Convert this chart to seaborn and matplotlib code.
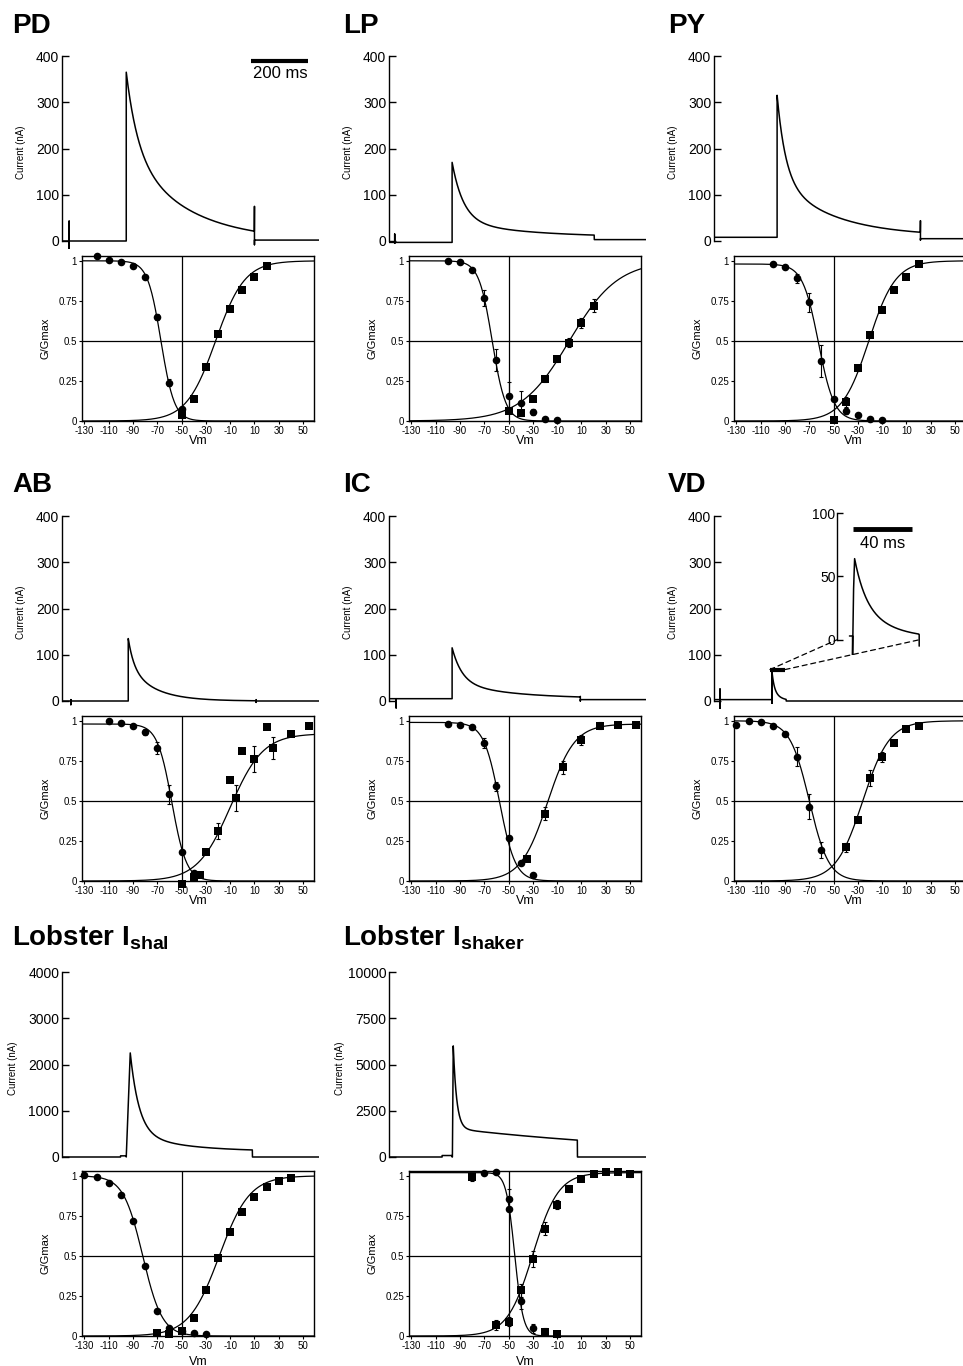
import numpy as np
import pandas as pd
import matplotlib
matplotlib.use("Agg")
import matplotlib.pyplot as plt
from matplotlib.patches import ConnectionPatch
import seaborn as sns

# %% data ---------------------------------------------------------------------

# G/Gmax vs Vm. circles = inactivation, squares = activation, *_e = error bars
pd_inact_v = [-120, -110, -100, -90, -80, -70, -60, -50]
pd_inact_g = [1.03, 1.005, 0.99, 0.965, 0.90, 0.65, 0.24, 0.077]
pd_inact_e = [0, 0, 0, 0, 0, 0.02, 0.02, 0]
pd_act_v = [-50, -40, -30, -20, -10, 0, 10, 20]
pd_act_g = [0.04, 0.14, 0.34, 0.545, 0.70, 0.815, 0.90, 0.965]
pd_act_e = [0, 0, 0, 0, 0, 0, 0, 0]

lp_inact_v = [-100, -90, -80, -70, -60, -50, -40, -30, -20, -10]
lp_inact_g = [1.0, 0.99, 0.945, 0.77, 0.38, 0.155, 0.11, 0.055, 0.01, 0.005]
lp_inact_e = [0, 0, 0, 0.05, 0.07, 0.09, 0.08, 0.02, 0, 0]
lp_act_v = [-50, -40, -30, -20, -10, 0, 10, 20]
lp_act_g = [0.06, 0.05, 0.135, 0.26, 0.385, 0.49, 0.61, 0.72]
lp_act_e = [0, 0, 0, 0.015, 0.015, 0.03, 0.03, 0.04]

py_inact_v = [-100, -90, -80, -70, -60, -50, -40, -30, -20, -10]
py_inact_g = [0.98, 0.96, 0.89, 0.74, 0.375, 0.14, 0.062, 0.035, 0.01, 0.006]
py_inact_e = [0, 0, 0.03, 0.06, 0.1, 0, 0.02, 0, 0, 0]
py_act_v = [-50, -40, -30, -20, -10, 0, 10, 20]
py_act_g = [0.004, 0.12, 0.33, 0.535, 0.695, 0.82, 0.90, 0.98]
py_act_e = [0, 0.03, 0.015, 0, 0, 0, 0, 0]

ab_inact_v = [-110, -100, -90, -80, -70, -60, -50, -40]
ab_inact_g = [1.0, 0.985, 0.965, 0.93, 0.83, 0.54, 0.18, 0.05]
ab_inact_e = [0, 0, 0, 0.02, 0.04, 0.06, 0, 0]
ab_act_v = [-50, -40, -35, -30, -20, -10, -5, 0, 10, 20, 25, 40, 55]
ab_act_g = [-0.017, 0.025, 0.04, 0.18, 0.31, 0.63, 0.52, 0.81, 0.76, 0.96, 0.83, 0.92, 0.97]
ab_act_e = [0, 0, 0, 0, 0.05, 0, 0.08, 0, 0.08, 0, 0.07, 0, 0]

ic_inact_v = [-100, -90, -80, -70, -60, -50, -40, -30]
ic_inact_g = [0.98, 0.975, 0.96, 0.86, 0.59, 0.27, 0.11, 0.04]
ic_inact_e = [0, 0, 0, 0.03, 0.03, 0, 0, 0]
ic_act_v = [-35, -20, -5, 10, 25, 40, 55]
ic_act_g = [0.14, 0.42, 0.71, 0.88, 0.97, 0.975, 0.975]
ic_act_e = [0, 0.04, 0.04, 0.03, 0.02, 0, 0]

vd_inact_v = [-130, -120, -110, -100, -90, -80, -70, -60]
vd_inact_g = [0.975, 1.0, 0.99, 0.965, 0.92, 0.775, 0.465, 0.196]
vd_inact_e = [0, 0, 0, 0, 0, 0.06, 0.08, 0.05]
vd_act_v = [-40, -30, -20, -10, 0, 10, 20]
vd_act_g = [0.21, 0.38, 0.64, 0.775, 0.86, 0.95, 0.965]
vd_act_e = [0.03, 0, 0.05, 0.03, 0, 0, 0]

shal_inact_v = [-130, -120, -110, -100, -90, -80, -70, -60, -50, -40, -30]
shal_inact_g = [1.005, 0.99, 0.955, 0.88, 0.72, 0.437, 0.158, 0.05, 0.03, 0.016, 0.01]
shal_inact_e = [0] * 11
shal_act_v = [-70, -60, -50, -40, -30, -20, -10, 0, 10, 20, 30, 40]
shal_act_g = [0.016, 0.01, 0.03, 0.113, 0.287, 0.49, 0.647, 0.776, 0.867, 0.928, 0.97, 0.986]
shal_act_e = [0] * 12

shk_inact_v = [-70, -60, -50, -50, -40, -30]
shk_inact_g = [1.017, 1.025, 0.855, 0.79, 0.22, 0.048]
shk_inact_e = [0, 0, 0.06, 0, 0.05, 0.03]
shk_act_v = [-80, -60, -50, -40, -30, -20, -20, -10, -10, 0, 10, 20, 30, 40, 50]
shk_act_g = [0.99, 0.068, 0.09, 0.285, 0.48, 0.67, 0.027, 0.82, 0.012, 0.92, 0.98, 1.01, 1.025, 1.025, 1.01]
shk_act_e = [0.02, 0.03, 0.03, 0.04, 0.05, 0.04, 0.02, 0.03, 0.02, 0.02, 0, 0, 0, 0, 0.02]

# Boltzmann fits: (V1/2, slope, Gmax)
pd_fits = [(-67, 5.5, 1.0), (-22, 12, 1.0)]
lp_fits = [(-63.5, 5.5, 1.0), (0, 20, 1.0)]
py_fits = [(-62.5, 6.5, 0.98), (-21, 11, 1.0)]
ab_fits = [(-58, 6, 0.98), (-10, 13.5, 0.92)]
ic_fits = [(-57.5, 6.5, 0.99), (-18, 11, 0.98)]
vd_fits = [(-70, 8, 1.0), (-26, 11, 1.0)]
shal_fits = [(-82, 8, 1.0), (-19, 12.5, 1.0)]
shk_fits = [(-45, 3.5, 1.02), (-30, 10.5, 1.02)]

# current traces: onset ms, rise ms, fast amp, fast tau, slow amp, slow tau, plateau, step off ms
pd_trace = [225, 0, 165, 40, 200, 200, 0, 674]
lp_trace = [221, 0, 127, 40, 35, 250, 8, 719]
py_trace = [221, 0, 180, 30, 125, 190, 10, 723]
ab_trace = [232, 0, 60, 20, 75, 90, 0, 680]
ic_trace = [221, 0, 75, 35, 35, 200, 5, 670]
vd_trace = [203, 0, 39, 8, 25, 25, 0, 253]
shal_trace = [225, 14, 1730, 31, 400, 170, 120, 667]
shk_trace = [222, 3, 4464, 12, 1540, 830, 0, 660]

# baseline before / after the step (nA)
pd_base, lp_base, py_base, ab_base = [0, 2], [-3, 3], [8, 5], [0, 0]
ic_base, vd_base, shal_base, shk_base = [5, 3], [3, 0], [0, 0], [0, 0]

# capacitive artifacts: (time ms, top nA, bottom nA)
pd_arts = [(25, 43, -22), (674, 75, -8)]
lp_arts = [(20, 15, -5)]
py_arts = [(723, 44, 2)]
ab_arts = [(31, 3, -8), (680, 3, -3)]
ic_arts = [(25, 3, -15), (670, 10, 0)]
vd_arts = [(21, 26, -22), (203, 70, -5)]
shal_bump = (205, 225, 25)
shk_bump = (186, 221, 80)

# VD inset (ms from peak): end, fast amp, fast tau, slow amp, slow tau, plateau
vd_inset_trace = [44, 39, 8, 25, 25, 0]
vd_inset_pre = [3, -13, 40]      # baseline, dip, first step
vd_zoom_window = [196, 249]      # ms, part of the VD trace shown in the inset
vd_zoom_level = 68

# %% style -----------------------------------------------------------------------

sns.set_style("ticks")
plt.rcParams['font.family'] = ['Liberation Sans', 'DejaVu Sans']
plt.rcParams['mathtext.fontset'] = 'custom'
plt.rcParams['mathtext.rm'] = 'Liberation Sans'
plt.rcParams['mathtext.bf'] = 'Liberation Sans:bold'
plt.rcParams['axes.edgecolor'] = 'black'
plt.rcParams['axes.linewidth'] = 1.0
plt.rcParams['text.color'] = 'black'
plt.rcParams['axes.labelcolor'] = 'black'
plt.rcParams['xtick.color'] = 'black'
plt.rcParams['ytick.color'] = 'black'

W, H = 963, 1366
fig = plt.figure(figsize=(W / 100, H / 100), dpi=100)


def rect(left, top, w, h):
    return [left / W, 1 - (top + h) / H, w / W, h / H]


def make_trace(spec, base, arts=(), bump=None, t_end=900):
    t_on, rise, af, tf, asl, ts, c, t_off = spec
    pts = [(0, base[0])]
    for ta, top, bot in arts:
        if ta <= t_on:
            pts += [(ta, base[0]), (ta, top), (ta, bot), (ta, base[0])]
    if bump is not None:
        pts += [(bump[0], base[0]), (bump[0], bump[2]), (bump[1], bump[2]), (bump[1], base[0])]
    pts.append((t_on, base[0]))
    dt = np.arange(0, t_off - t_on - rise, 0.5)
    dec = af * np.exp(-dt / tf) + asl * np.exp(-dt / ts) + c
    pts += list(zip(t_on + rise + dt, dec))
    for ta, top, bot in arts:
        if ta >= t_off:
            pts += [(t_off, top), (t_off, bot)]
    pts += [(t_off, base[1]), (t_end, base[1])]
    return pd.DataFrame(pts, columns=['t', 'I'])


def boltz(v, fit, act):
    vh, k, gmax = fit
    if act:
        return gmax / (1 + np.exp((vh - v) / k))
    return gmax / (1 + np.exp((v - vh) / k))


panels = [
    dict(title='PD', r=0, c=0, ymax=400, tr=pd_trace, base=pd_base, arts=pd_arts, bump=None,
         iv=pd_inact_v, ig=pd_inact_g, ie=pd_inact_e, av=pd_act_v, ag=pd_act_g, ae=pd_act_e, fits=pd_fits),
    dict(title='LP', r=0, c=1, ymax=400, tr=lp_trace, base=lp_base, arts=lp_arts, bump=None,
         iv=lp_inact_v, ig=lp_inact_g, ie=lp_inact_e, av=lp_act_v, ag=lp_act_g, ae=lp_act_e, fits=lp_fits),
    dict(title='PY', r=0, c=2, ymax=400, tr=py_trace, base=py_base, arts=py_arts, bump=None,
         iv=py_inact_v, ig=py_inact_g, ie=py_inact_e, av=py_act_v, ag=py_act_g, ae=py_act_e, fits=py_fits),
    dict(title='AB', r=1, c=0, ymax=400, tr=ab_trace, base=ab_base, arts=ab_arts, bump=None,
         iv=ab_inact_v, ig=ab_inact_g, ie=ab_inact_e, av=ab_act_v, ag=ab_act_g, ae=ab_act_e, fits=ab_fits),
    dict(title='IC', r=1, c=1, ymax=400, tr=ic_trace, base=ic_base, arts=ic_arts, bump=None,
         iv=ic_inact_v, ig=ic_inact_g, ie=ic_inact_e, av=ic_act_v, ag=ic_act_g, ae=ic_act_e, fits=ic_fits),
    dict(title='VD', r=1, c=2, ymax=400, tr=vd_trace, base=vd_base, arts=vd_arts, bump=None,
         iv=vd_inact_v, ig=vd_inact_g, ie=vd_inact_e, av=vd_act_v, ag=vd_act_g, ae=vd_act_e, fits=vd_fits),
    dict(title=r'Lobster I$_{\mathbf{shal}}$', r=2, c=0, ymax=4000, tr=shal_trace, base=shal_base, arts=(),
         bump=shal_bump, iv=shal_inact_v, ig=shal_inact_g, ie=shal_inact_e, av=shal_act_v, ag=shal_act_g,
         ae=shal_act_e, fits=shal_fits),
    dict(title=r'Lobster I$_{\mathbf{shaker}}$', r=2, c=1, ymax=10000, tr=shk_trace, base=shk_base, arts=(),
         bump=shk_bump, iv=shk_inact_v, ig=shk_inact_g, ie=shk_inact_e, av=shk_act_v, ag=shk_act_g,
         ae=shk_act_e, fits=shk_fits),
]

# layout in pixels
trace_x = [62, 389, 714]
gv_x = [82, 409, 734]
gv_extra = [0, 0, 6]          # third column runs off the page edge
trace_top = [56, 516, 972]
gv_top = [256, 716, 1171]
title_x = [12, 343, 668]
title_y = [33, 492, 945]
vm_pad = [14, 14, 20]
TW, T0, TB = 257, 185, 8     # trace width, px from top tick to zero, px below zero
GW, GH = 232, 165
PX_MV = GW / (59 + 132)

vticks = list(range(-130, 51, 20))
axes_main = {}

for p in panels:
    r, c = p['r'], p['c']

    # ---- current trace
    ax = fig.add_axes(rect(trace_x[c], trace_top[r], TW, T0 + TB))
    df = make_trace(p['tr'], p['base'], p['arts'], p['bump'])
    sns.lineplot(data=df, x='t', y='I', ax=ax, color='black', lw=1.1,
                 estimator=None, sort=False)
    ymax = p['ymax']
    ax.set_xlim(0, 900)
    ax.set_ylim(-TB * ymax / T0, ymax)
    for s in ['top', 'right', 'bottom']:
        ax.spines[s].set_visible(False)
    ax.spines['left'].set_bounds(0, ymax)
    ax.set_xticks([])
    ax.set_yticks(np.linspace(0, ymax, 5))
    ax.set_yticklabels([f"{v:g}" for v in np.linspace(0, ymax, 5)])
    ax.tick_params(axis='y', direction='in', length=5, width=1, labelsize=10, pad=2)
    ax.set_xlabel('')
    ax.set_ylabel('Current (nA)', fontsize=7)
    ax.yaxis.set_label_coords(-0.17 if r == 2 else -0.14, 0.5)
    ax.patch.set_alpha(0)
    axes_main[p['title']] = ax

    # ---- G/Gmax vs Vm
    gw = GW + gv_extra[c]
    xmax = 59 + gv_extra[c] / PX_MV
    gx = fig.add_axes(rect(gv_x[c], gv_top[r], gw, GH))
    vgrid = np.arange(-132, xmax + 0.5, 0.5)
    fit_df = pd.DataFrame({'Vm': vgrid,
                           'inact': boltz(vgrid, p['fits'][0], False),
                           'act': boltz(vgrid, p['fits'][1], True)})
    sns.lineplot(data=fit_df, x='Vm', y='inact', ax=gx, color='black', lw=0.9, estimator=None)
    sns.lineplot(data=fit_df, x='Vm', y='act', ax=gx, color='black', lw=0.9, estimator=None)
    gx.axhline(0.5, color='black', lw=0.9)
    gx.axvline(-50, color='black', lw=0.9)
    for v, g, e, mk, sz in [(p['iv'], p['ig'], p['ie'], 'o', 30), (p['av'], p['ag'], p['ae'], 's', 26)]:
        v, g, e = np.array(v), np.array(g), np.array(e)
        m = e > 0
        if m.any():
            gx.errorbar(v[m], g[m], yerr=e[m], fmt='none', ecolor='black', elinewidth=0.8,
                        capsize=1.5, capthick=0.8, zorder=3, clip_on=False)
        sns.scatterplot(x=v, y=g, ax=gx, marker=mk, s=sz, color='black', linewidth=0,
                        zorder=4, clip_on=False, legend=False)
    gx.set_xlim(-132, xmax)
    gx.set_ylim(0, 1.03)
    gx.set_xticks(vticks)
    gx.set_xticklabels([str(v) for v in vticks])
    gx.set_yticks([0, 0.25, 0.5, 0.75, 1])
    gx.set_yticklabels(['0', '0.25', '0.5', '0.75', '1'])
    gx.tick_params(direction='out', length=2.5, width=0.8, labelsize=7, pad=1)
    gx.set_xlabel('Vm', fontsize=9)
    gx.xaxis.set_label_coords(0.5, -vm_pad[r] / GH)
    gx.set_ylabel('G/Gmax', fontsize=8)
    gx.yaxis.set_label_coords(-0.135 * GW / gw, 0.5)
    for s in gx.spines.values():
        s.set_visible(True)
        s.set_linewidth(1)

    fig.text(title_x[c] / W, 1 - title_y[r] / H, p['title'], fontsize=20,
             fontweight='bold', va='baseline', ha='left')

# ---- scale bar in PD
ax = axes_main['PD']
ax.plot([663, 863], [389, 389], color='black', lw=3, solid_capstyle='butt')
ax.text(763, 378, '200 ms', ha='center', va='top', fontsize=12)

# ---- VD inset
ax = axes_main['VD']
ax.plot(vd_zoom_window, [vd_zoom_level, vd_zoom_level], color='black', lw=3, solid_capstyle='butt')

ins = fig.add_axes(rect(837, 513, 91, 142))
t_end_in, af, tf, asl, ts, cc = vd_inset_trace
base0, dip, step1 = vd_inset_pre
dt = np.arange(0, t_end_in, 0.25)
in_df = pd.DataFrame({
    't': np.concatenate([[-3.5, -1.4, -1.4, -0.7], dt, [t_end_in, t_end_in]]),
    'I': np.concatenate([[base0, base0, dip, step1],
                         af * np.exp(-dt / tf) + asl * np.exp(-dt / ts) + cc, [4, -5]]),
})
sns.lineplot(data=in_df, x='t', y='I', ax=ins, color='black', lw=1.1, estimator=None, sort=False)
ins.set_xlim(-12, 50)
ins.set_ylim(-12, 100)
for s in ['top', 'right', 'bottom']:
    ins.spines[s].set_visible(False)
ins.spines['left'].set_bounds(0, 100)
ins.set_xticks([])
ins.set_yticks([0, 50, 100])
ins.tick_params(axis='y', direction='in', length=4, width=1, labelsize=10, pad=1)
ins.set_xlabel('')
ins.set_ylabel('')
ins.patch.set_alpha(0)
ins.plot([-1, 39], [87, 87], color='black', lw=3.5, solid_capstyle='butt')
ins.text(19, 82, '40 ms', ha='center', va='top', fontsize=12)

for xa, xb in [(vd_zoom_window[0], -12), (vd_zoom_window[1], t_end_in)]:
    con = ConnectionPatch(xyA=(xa, vd_zoom_level), coordsA=ax.transData,
                          xyB=(xb, 0), coordsB=ins.transData,
                          linestyle=(0, (4, 3)), color='black', lw=0.9)
    fig.add_artist(con)

fig.savefig('out.png', dpi=100, facecolor='white')
